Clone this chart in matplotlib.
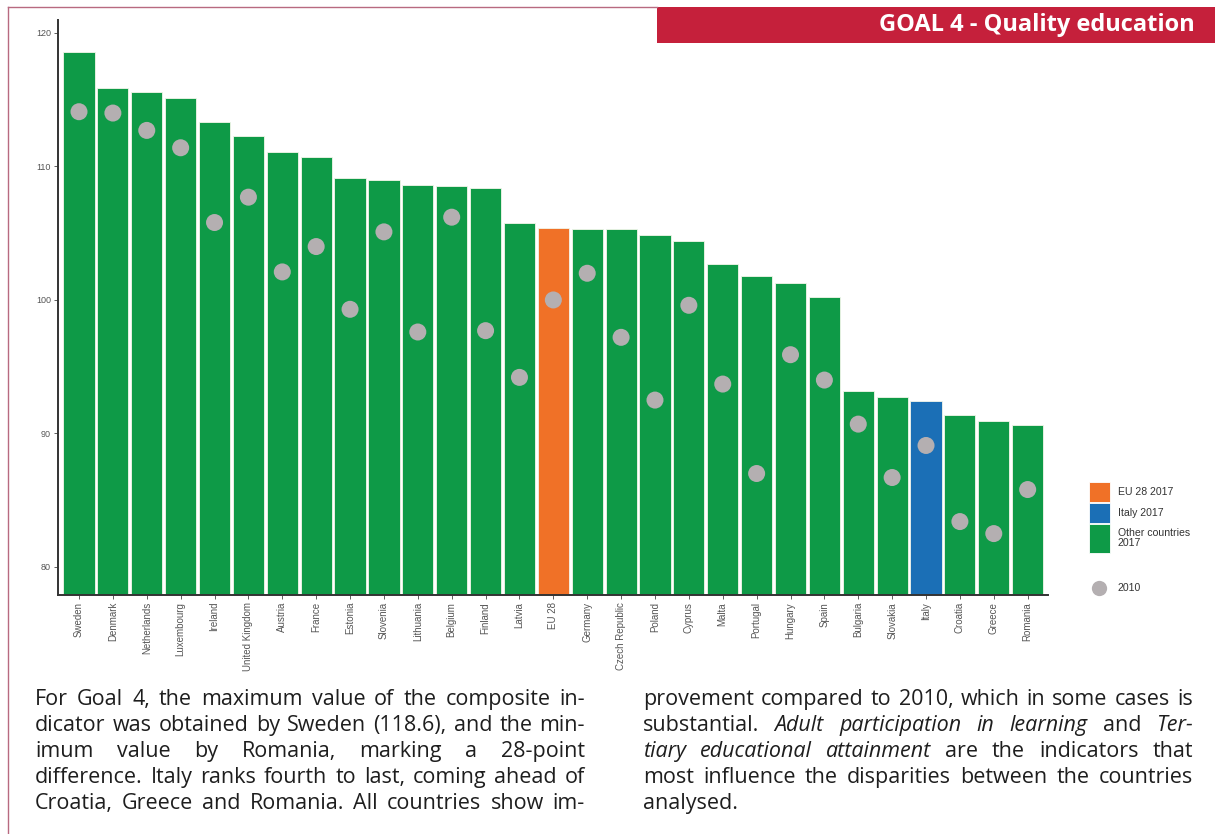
import matplotlib
matplotlib.use("Agg")
import matplotlib.pyplot as plt
from matplotlib.patches import Rectangle
from matplotlib.lines import Line2D
import numpy as np

# composite indicator, Goal 4
countries = ["Sweden", "Denmark", "Netherlands", "Luxembourg", "Ireland",
             "United Kingdom", "Austria", "France", "Estonia", "Slovenia",
             "Lithuania", "Belgium", "Finland", "Latvia", "EU 28", "Germany",
             "Czech Republic", "Poland", "Cyprus", "Malta", "Portugal",
             "Hungary", "Spain", "Bulgaria", "Slovakia", "Italy", "Croatia",
             "Greece", "Romania"]
val_2017 = [118.6, 115.9, 115.6, 115.1, 113.3, 112.3, 111.1, 110.7, 109.1,
            109.0, 108.6, 108.5, 108.4, 105.8, 105.4, 105.3, 105.3, 104.9,
            104.4, 102.7, 101.8, 101.3, 100.2, 93.2, 92.7, 92.4, 91.4, 90.9,
            90.6]
val_2010 = [114.1, 114.0, 112.7, 111.4, 105.8, 107.7, 102.1, 104.0, 99.3,
            105.1, 97.6, 106.2, 97.7, 94.2, 100.0, 102.0, 97.2, 92.5, 99.6,
            93.7, 87.0, 95.9, 94.0, 90.7, 86.7, 89.1, 83.4, 82.5, 85.8]
yticks = [80, 90, 100, 110, 120]

GREEN = "#0e9a47"
ORANGE = "#f07127"
BLUE = "#1b6fb6"
GREY = "#b4afb1"
RED = "#c5203b"

W, H = 1215, 834
fig = plt.figure(figsize=(W / 100, H / 100), dpi=100)
fig.patch.set_facecolor("white")


def fx(px):
    return px / W


def fy(py):
    return 1 - py / H


# page frame + header band
fig.add_artist(Line2D([fx(8), fx(8)], [fy(7), 0], color="#b86a80", lw=1.0))
fig.add_artist(Line2D([fx(8), fx(657)], [fy(7), fy(7)], color="#b86a80", lw=1.0))
fig.add_artist(Rectangle((fx(657), fy(43)), fx(W - 657), fy(7) - fy(43),
                         facecolor=RED, edgecolor="none"))
fig.text(fx(1195), fy(25), "GOAL 4 - Quality education", color="white",
         fontsize=17, fontweight="bold", family="Open Sans",
         ha="right", va="center")

ax = fig.add_axes([fx(58), fy(595), fx(1048 - 58), fy(20) - fy(595)])
x = np.arange(len(countries))
colors = [ORANGE if c == "EU 28" else BLUE if c == "Italy" else GREEN
          for c in countries]
ax.bar(x, val_2017, width=0.92, color=colors, edgecolor="#f3f6ea",
       linewidth=0.6, zorder=2)
ax.scatter(x, val_2010, s=150, color=GREY, edgecolor="none", zorder=3)

ax.set_xlim(-0.62, 28.6)
ax.set_ylim(77.9, 120.97)
ax.set_yticks(yticks)
ax.set_yticklabels([str(t) for t in yticks], fontsize=6.5, color="#555555",
                   family="Liberation Sans")
ax.set_xticks(x)
ax.set_xticklabels(countries, rotation=90, fontsize=7, color="#555555",
                   family="Liberation Sans")
ax.tick_params(axis="both", length=3, width=0.6, color="#444444", pad=2)
for s in ["top", "right"]:
    ax.spines[s].set_visible(False)
for s in ["left", "bottom"]:
    ax.spines[s].set_color("#333333")
    ax.spines[s].set_linewidth(1.4)

# legend
leg = [(482, 20, ORANGE, "EU 28 2017"), (503, 20, BLUE, "Italy 2017"),
       (524, 29, GREEN, "Other countries\n2017")]
for top, h, c, lab in leg:
    fig.add_artist(Rectangle((fx(1089), fy(top + h)), fx(21), fy(top) - fy(top + h),
                             facecolor=c, edgecolor="white", lw=0.6))
    fig.text(fx(1118), fy(top + h / 2), lab, fontsize=7.6, color="#333333",
             family="Liberation Sans", va="center", ha="left", linespacing=1.0)
fig.add_artist(Line2D([fx(1099)], [fy(588)], marker="o", markersize=11,
                      color=GREY, markeredgecolor="none"))
fig.text(fx(1118), fy(588), "2010", fontsize=7.6, color="#333333",
         family="Liberation Sans", va="center", ha="left")

# body text, two justified columns
left_col = [
    "For Goal 4, the maximum value of the composite in-",
    "dicator was obtained by Sweden (118.6), and the min-",
    "imum value by Romania, marking a 28-point",
    "difference. Italy ranks fourth to last, coming ahead of",
    "Croatia, Greece and Romania. All countries show im-",
]
right_col = [
    "provement compared to 2010, which in some cases is",
    "substantial. *Adult participation in learning* and *Ter-*",
    "*tiary educational attainment* are the indicators that",
    "most influence the disparities between the countries",
    "analysed.",
]

renderer = fig.canvas.get_renderer()
TXT = dict(fontsize=15.5, family="Open Sans", color="#1e1e1e", va="baseline")


def text_width(s, **kw):
    t = fig.text(0, 0, s, **kw)
    w = t.get_window_extent(renderer).width
    t.remove()
    return w


SPACE = text_width("a a", **TXT) - 2 * text_width("a", **TXT)


def draw_line(line, x0, x1, ybase, justify=True):
    words, italic = [], False
    for w in line.split(" "):
        if w.startswith("*"):
            italic = True
        words.append((w.strip("*"), italic))
        if w.endswith("*"):
            italic = False
    arts = [fig.text(0, fy(ybase), w, style="italic" if it else "normal", **TXT)
            for w, it in words]
    widths = [a.get_window_extent(renderer).width for a in arts]
    if justify and len(arts) > 1:
        gap = (x1 - x0 - sum(widths)) / (len(arts) - 1)
    else:
        gap = SPACE
    xp = x0
    for a, wd in zip(arts, widths):
        a.set_x(fx(xp))
        xp += wd + gap


for i, ln in enumerate(left_col):
    draw_line(ln, 35, 585, 705 + 26 * i)
for i, ln in enumerate(right_col):
    draw_line(ln, 643, 1193, 705 + 26 * i, justify=i < len(right_col) - 1)

fig.savefig("out.png", dpi=100, facecolor="white")
